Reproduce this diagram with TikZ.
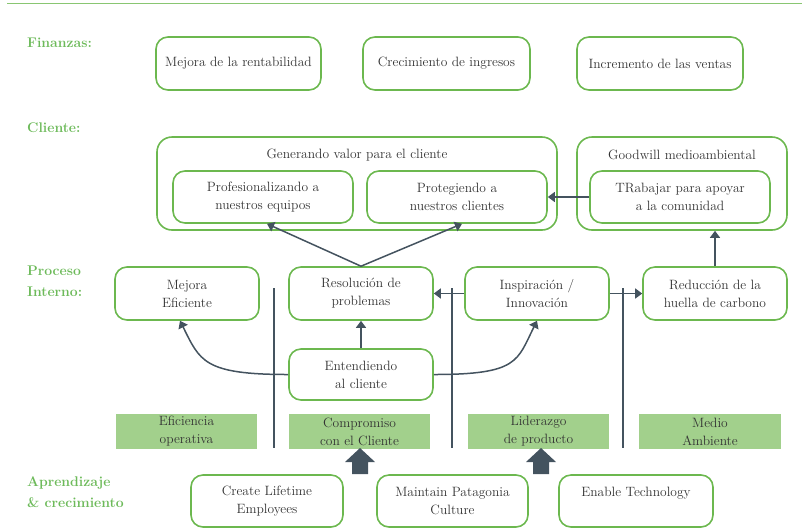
\documentclass[tikz,border=0pt]{standalone}
\usetikzlibrary{arrows.meta}
\definecolor{boxgreen}{HTML}{6CB84F}
\definecolor{labelgreen}{HTML}{6DBA5A}
\definecolor{barfill}{HTML}{A2D08C}
\definecolor{arrowgray}{HTML}{44535F}
\definecolor{textgray}{HTML}{333333}
\begin{document}
\begin{tikzpicture}[x=1pt,y=-1pt,
  box/.style={draw=boxgreen,line width=1.6pt,rounded corners=12pt,align=center,
    text=textgray,font=\fontsize{13.5}{18}\selectfont,inner sep=0pt,
    minimum width=144pt,minimum height=53pt},
  bar/.style={fill=barfill,align=center,text=textgray,font=\fontsize{13.5}{18}\selectfont,
    inner sep=0pt,minimum width=141pt,minimum height=35pt},
  title/.style={text=textgray,font=\fontsize{13.5}{18}\selectfont},
  rowlabel/.style={anchor=west,align=left,text=labelgreen,inner sep=0pt,
    font=\fontsize{14}{21}\selectfont\bfseries},
  link/.style={arrowgray,line width=1.5pt,-{Triangle[width=10pt,length=7pt]}},
  sep/.style={arrowgray,line width=1.5pt}]
\useasboundingbox (0,0) rectangle (802,531);

% Top rule
\draw[boxgreen!80,line width=1.6pt] (7,3.5) -- (802,3.5);

% Names
\node[rowlabel] (fin) at (27,43) {Finanzas:};
\node[rowlabel] (cli) at (27,128) {Cliente:};
\node[rowlabel] (pro) at (27,281) {Proceso\\Interno:};
\node[rowlabel] (apr) at (27,492) {Aprendizaje\\\& crecimiento};

% Finanzas
\node[box,minimum width=165pt] (F1) at (238.5,63.5) {Mejora de la rentabilidad};
\node[box,minimum width=167pt] (F2) at (446.5,63.5) {Crecimiento de ingresos};
\node[box,minimum width=166pt] (F3) at (660,63.5) {Incremento de las ventas};

% Cliente
\node[box,minimum width=400pt,minimum height=93pt,rounded corners=15pt] (C) at (357,183.5) {};
\node[title] (Ct) at (357,155) {Generando valor para el cliente};
\node[box,minimum width=180pt,minimum height=52pt] (C1) at (263,197) {Profesionalizando a\\nuestros equipos};
\node[box,minimum width=180pt,minimum height=52pt] (C2) at (457,197) {Protegiendo a\\nuestros clientes};
\node[box,minimum width=210pt,minimum height=93pt,rounded corners=15pt] (G) at (682,183.5) {};
\node[title] (Gt) at (682,155) {Goodwill medioambiental};
\node[box,minimum width=180pt,minimum height=52pt] (G1) at (680,197) {TRabajar para apoyar\\a la comunidad};

% Proceso interno
\node[box] (P1) at (187,293.5) {Mejora\\Eficiente};
\node[box] (P2) at (361,293.5) {Resoluci\'on de\\problemas};
\node[box] (P3) at (537,293.5) {Inspiraci\'on /\\Innovaci\'on};
\node[box] (P4) at (715,293.5) {Reducci\'on de la\\huella de carbono};
\node[box,minimum height=51pt] (P5) at (361,374.5) {Entendiendo\\al cliente};

% Vertical lines
\foreach \x in {274,452,623}
  \draw[sep] (\x,288) -- (\x,448);

% Bars
\node[bar] (S1) at (186.5,431.5) {Eficiencia\\operativa};
\node[bar] (S2) at (359.5,431.5) {Compromiso\\con el Cliente};
\node[bar] (S3) at (538.5,431.5) {Liderazgo\\de producto};
\node[bar,minimum width=142pt] (S4) at (710,431.5) {Medio\\Ambiente};

% Aprendizaje
\node[box,minimum width=152pt,minimum height=52pt] (A1) at (267,501) {Create Lifetime\\Employees};
\node[box,minimum width=151pt,minimum height=52pt] (A2) at (452.5,501) {Maintain Patagonia\\Culture};
\node[box,minimum width=154pt,minimum height=52pt] (A3) at (636,501) {Enable Technology\\\mbox{}};

% Arrows
\draw[link] (P2.north) -- ([xshift=4pt]C1.south);
\draw[link] (P2.north) -- ([xshift=5pt]C2.south);
\draw[link] (G1.west) -- (C2.east);
\draw[link] (P4.north) -- (P4.north |- G.south);
\draw[link] (P3.west) -- (P2.east);
\draw[link] (P3.east) -- (P4.west);
\draw[link] (P5.north) -- (P2.south);
\draw[link] (P5.west) .. controls +(-85,0) and +(20,40) .. ([xshift=-7pt]P1.south);
\draw[link] (P5.east) .. controls +(85,0) and +(-20,40) .. (P3.south);

% Block arrows
\foreach \x in {360,541}
  \fill[arrowgray] (\x,448) -- ++(15,14) -- ++(-7,0) -- ++(0,12) -- ++(-16,0)
    -- ++(0,-12) -- ++(-7,0) -- cycle;
\end{tikzpicture}
\end{document}
